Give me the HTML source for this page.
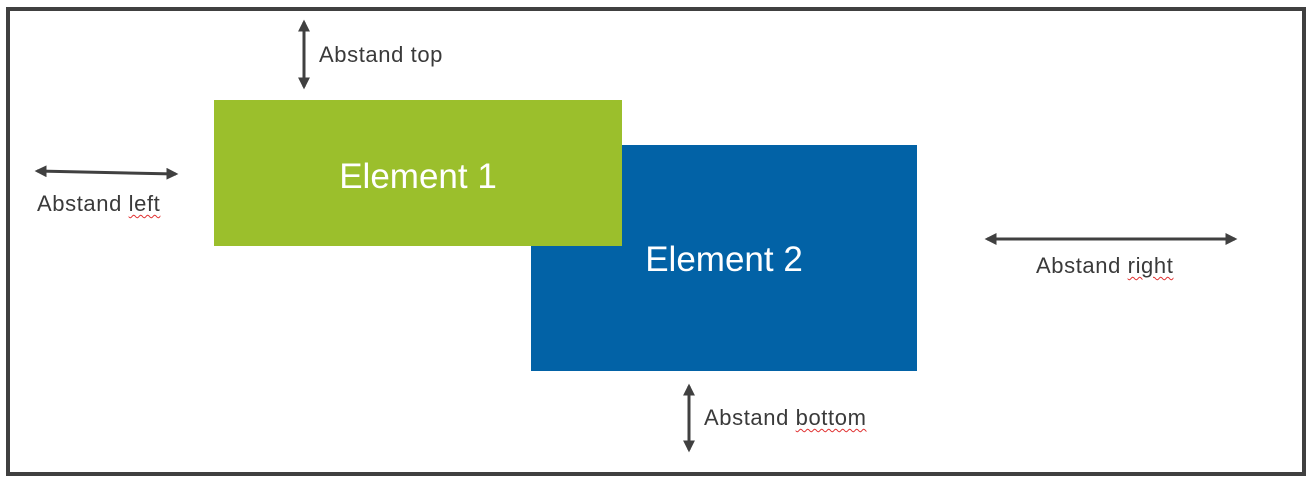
<!DOCTYPE html>
<html><head><meta charset="utf-8"><style>
body{margin:0;width:1314px;height:482px;background:#fff;position:relative;overflow:hidden;font-family:"Liberation Sans",sans-serif}
.a{position:absolute}
.lbl{position:absolute;font-size:22px;color:#3a3a3a;white-space:nowrap;letter-spacing:0.6px}
.sq{text-decoration:underline wavy #e03030 1px;text-underline-offset:3px}
.el{position:absolute;color:#fff;font-size:35px;display:flex;align-items:center;justify-content:center}
</style></head><body>
<div class="a" style="left:6px;top:7px;width:1292px;height:461px;border:4px solid #404040"></div>
<div class="el" style="left:214px;top:100px;width:408px;height:146px;background:#9BBF2C;z-index:2"><span style="position:relative;top:4px">Element 1</span></div>
<div class="el" style="left:531px;top:145px;width:386px;height:226px;background:#0262A6;z-index:1"><span style="position:relative;top:2px">Element 2</span></div>
<svg class="a" style="left:0;top:0;z-index:3" width="1314" height="482">
<defs><marker id="m" viewBox="0 0 10 10" refX="8" refY="5" markerWidth="4" markerHeight="4" orient="auto-start-reverse"><path d="M0,0L10,5L0,10z" fill="#404040"/></marker></defs>
<g stroke="#404040" stroke-width="3" marker-start="url(#m)" marker-end="url(#m)">
<line x1="304" y1="22" x2="304" y2="87"/>
<line x1="37" y1="171" x2="176" y2="174"/>
<line x1="987" y1="239" x2="1235" y2="239"/>
<line x1="689" y1="386" x2="689" y2="450"/>
</g></svg>
<div class="lbl" style="left:319px;top:42px">Abstand top</div>
<div class="lbl" style="left:37px;top:191px">Abstand <span class="sq">left</span></div>
<div class="lbl" style="left:1036px;top:253px">Abstand <span class="sq">right</span></div>
<div class="lbl" style="left:704px;top:405px">Abstand <span class="sq">bottom</span></div>
</body></html>
